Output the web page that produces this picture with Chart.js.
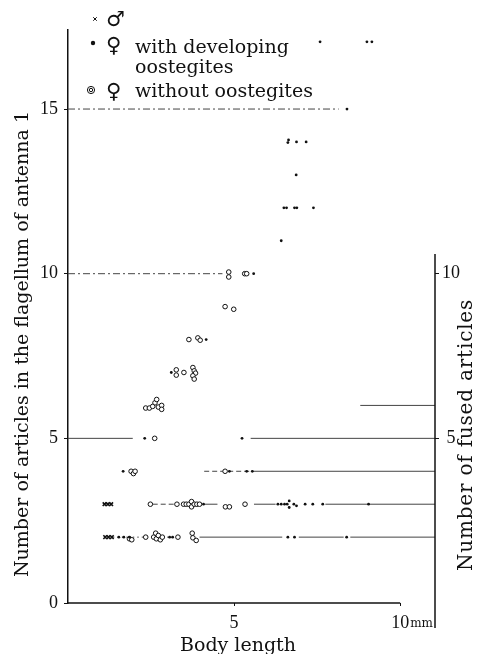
<!DOCTYPE html>
<html><head><meta charset="utf-8">
<script src="https://cdn.jsdelivr.net/npm/chart.js@4.4.1/dist/chart.umd.min.js"></script>
<style>html,body{margin:0;padding:0;background:#fff;}canvas{display:block;}</style>
</head><body>
<canvas id="c" width="492" height="654"></canvas>
<script>
// ---------- data ----------
const yTicksLeft  = [0, 5, 10, 15];
const yTicksRight = [5, 10];
const xTicks      = [5, 10];
const xUnitLabel  = 'mm';
const yTitle      = 'Number of articles in the flagellum of antenna 1';
const y2Title     = 'Number of fused articles';
const xTitle      = 'Body length';
const legendLabels = ['\u2642', '\u2640  with developing', 'oostegites', '\u2640  without oostegites'];

// males (x)
const maleX = [1.10, 1.20, 1.30, 1.12, 1.22, 1.32];
const maleY = [3.00, 3.00, 3.00, 2.00, 2.00, 2.00];

// females with developing oostegites (filled dots)
const devX = [7.59, 9.00, 9.15, 8.40,
              6.62, 6.64, 6.88, 7.17, 6.87,
              6.50, 6.58, 6.82, 6.89, 7.39, 6.42,
              5.59, 4.16, 3.11, 2.31, 5.24,
              1.66, 4.86, 5.38, 5.55,
              4.08, 6.32, 6.42, 6.52, 6.60, 6.66, 6.66, 6.80, 6.88, 7.14, 7.37, 7.67, 9.05,
              1.53, 1.68, 1.85, 3.06, 3.15, 6.62, 6.82, 8.39];
const devY = [17.04, 17.04, 17.04, 15.0,
              13.98, 14.06, 14.0, 14.0, 13.0,
              12.0, 12.0, 12.0, 12.0, 12.0, 11.0,
              10.0, 8.0, 7.0, 5.0, 5.0,
              4.0, 4.0, 4.0, 4.0,
              3.0, 3.0, 3.0, 3.0, 3.0, 3.1, 2.9, 3.0, 2.95, 3.0, 3.0, 3.0, 3.0,
              2.0, 2.0, 2.0, 2.0, 2.0, 2.0, 2.0, 2.0];

// females without oostegites (open circles)
const nonX = [4.84, 4.84, 5.32, 5.38,
              4.73, 4.99,
              3.64, 3.91, 3.98,
              3.26, 3.26, 3.49, 3.76, 3.80, 3.84, 3.76, 3.80,
              2.34, 2.45, 2.55, 2.62, 2.67, 2.72, 2.82, 2.82,
              2.61,
              1.90, 1.97, 2.02, 4.73,
              2.48, 3.28, 3.48, 3.56, 3.64, 3.72, 3.72, 3.80, 3.88, 3.96, 4.74, 4.86, 5.33,
              1.85, 1.92, 2.34, 2.58, 2.64, 2.66, 2.72, 2.78, 2.84, 3.31, 3.74, 3.76, 3.86];
const nonY = [10.05, 9.9, 10.0, 10.0,
              9.0, 8.92,
              8.0, 8.05, 7.98,
              7.08, 6.92, 7.0, 7.15, 7.05, 6.98, 6.9, 6.8,
              5.92, 5.92, 5.97, 6.08, 6.18, 5.95, 6.0, 5.88,
              5.0,
              4.0, 3.93, 4.0, 4.0,
              3.0, 3.0, 3.0, 3.0, 3.0, 3.08, 2.92, 3.0, 3.0, 3.0, 2.92, 2.92, 3.0,
              1.95, 1.92, 2.0, 2.0, 2.12, 1.95, 2.05, 1.92, 2.0, 2.0, 2.12, 1.98, 1.9];

// horizontal range lines (number of fused articles / reference lines)
const segY     = [15,   10,   5,    5,     6,     4,    4,     3,    3,    3,    3,     2,    2,    2,    2,    2,    2];
const segStart = [0,    0,    0,    5.50,  8.80,  4.10, 5.60,  2.55, 4.10, 5.60, 7.75,  1.35, 1.95, 2.85, 3.96, 6.95, 8.50];
const segEnd   = [8.15, 4.65, 1.95, 11.05, 11.05, 5.60, 11.05, 3.25, 4.50, 6.25, 11.05, 1.80, 2.30, 3.25, 6.45, 8.30, 11.05];

// ---------- styles ----------
const segKind = ['dashdot','dashdot','solid','solid','solid','dashed','solid','dashed','solid','solid','solid','dotted','dotted','dotted','solid','solid','solid'];
const dashFor = {solid: [], dashed: [5, 3], dotted: [1.5, 3], dashdot: [7, 3, 2, 3]};
const INK = '#111';
const SERIF = '"DejaVu Serif", serif';
const NUMF = '"Liberation Serif", serif';

const zip = (xs, ys) => xs.map((x, i) => ({x, y: ys[i]}));

const datasets = [
  {label: 'male', data: zip(maleX, maleY), pointStyle: 'crossRot', pointRadius: 2.6,
   borderColor: INK, borderWidth: 1.6, backgroundColor: INK, order: 0},
  {label: 'dev', data: zip(devX, devY), pointStyle: 'circle', pointRadius: 1.4,
   borderWidth: 0, backgroundColor: INK, order: 0},
  {label: 'non', data: zip(nonX, nonY), pointStyle: 'circle', pointRadius: 2.3,
   borderWidth: 1, borderColor: INK, backgroundColor: '#fff', order: 0}
];
segY.forEach((y, i) => {
  datasets.push({
    label: 'seg' + i,
    data: [{x: segStart[i], y}, {x: segEnd[i], y}],
    showLine: true, pointRadius: 0, borderColor: '#444', borderWidth: 1,
    borderDash: dashFor[segKind[i]], clip: false, order: 5
  });
});

const decor = {
  id: 'decor',
  afterDraw(chart) {
    const ctx = chart.ctx, xs = chart.scales.x, ys = chart.scales.y, y2 = chart.scales.y2;
    const area = chart.chartArea;
    ctx.save();
    ctx.strokeStyle = INK; ctx.fillStyle = INK; ctx.lineWidth = 1.6;
    // x axis line from 0 to last tick
    const y0 = ys.getPixelForValue(0);
    ctx.beginPath();
    ctx.moveTo(xs.getPixelForValue(0), y0);
    ctx.lineTo(xs.getPixelForValue(xTicks[xTicks.length - 1]), y0);
    ctx.stroke();
    // right axis (fused articles)
    ctx.lineWidth = 1.5;
    ctx.beginPath();
    ctx.moveTo(area.right, y2.getPixelForValue(10.6));
    ctx.lineTo(area.right, y2.getPixelForValue(-0.76));
    ctx.stroke();
    // unit after last x tick label
    ctx.font = '18px ' + NUMF;
    const w10 = ctx.measureText(String(xTicks[xTicks.length - 1])).width;
    ctx.font = '12px ' + SERIF;
    ctx.textAlign = 'left'; ctx.textBaseline = 'alphabetic';
    ctx.fillText(xUnitLabel, xs.getPixelForValue(xTicks[xTicks.length - 1]) + w10 / 2 + 1, y0 + 24);
    // titles
    ctx.font = '19px ' + SERIF;
    ctx.textAlign = 'center'; ctx.textBaseline = 'alphabetic';
    ctx.fillText(xTitle, 238, 651);
    ctx.save(); ctx.translate(28, 344); ctx.rotate(-Math.PI / 2);
    ctx.fillText(yTitle, 0, 0); ctx.restore();
    ctx.save(); ctx.translate(472, 435); ctx.rotate(-Math.PI / 2);
    ctx.font = '20px ' + SERIF;
    if ('letterSpacing' in ctx) ctx.letterSpacing = '0.8px';
    ctx.fillText(y2Title, 0, 0); ctx.restore();
    if ('letterSpacing' in ctx) ctx.letterSpacing = '0px';
    // legend
    ctx.lineWidth = 1;
    Chart.helpers.drawPoint(ctx, {pointStyle: 'crossRot', radius: 2.5, borderWidth: 1}, 95, 19);
    ctx.beginPath(); ctx.arc(93, 43, 2.2, 0, Math.PI * 2); ctx.fill();
    ctx.beginPath(); ctx.arc(91, 90, 3.6, 0, Math.PI * 2); ctx.stroke();
    ctx.beginPath(); ctx.arc(91, 90, 1.7, 0, Math.PI * 2); ctx.stroke();
    ctx.textAlign = 'left';
    ctx.font = '21px "DejaVu Sans", sans-serif';
    ctx.fillText(legendLabels[0], 106, 26);
    const parts1 = legendLabels[1].split('  ');
    const parts3 = legendLabels[3].split('  ');
    ctx.fillText(parts1[0], 106, 52);
    ctx.fillText(parts3[0], 106, 98);
    ctx.font = '19px ' + SERIF;
    ctx.fillText(parts1[1], 135, 53);
    ctx.fillText(legendLabels[2], 135, 73);
    ctx.fillText(parts3[1], 135, 97);
    ctx.restore();
  }
};

new Chart(document.getElementById('c'), {
  type: 'scatter',
  data: {datasets},
  options: {
    responsive: false, animation: false, devicePixelRatio: 1,
    layout: {padding: {top: 30, left: 0, right: 0, bottom: 0}},
    plugins: {legend: {display: false}, tooltip: {enabled: false}},
    scales: {
      x: {
        type: 'linear', min: 0, max: 11.05, position: 'bottom',
        afterBuildTicks: s => { s.ticks = xTicks.map(v => ({value: v})); },
        afterFit: s => { s.height = 51; },
        grid: {drawOnChartArea: false, drawTicks: true, tickLength: 3, color: INK},
        border: {display: false},
        ticks: {font: {family: NUMF, size: 18}, color: INK, padding: 6, maxRotation: 0, autoSkip: false}
      },
      y: {
        type: 'linear', min: 0, max: 17.4, position: 'left',
        afterBuildTicks: s => { s.ticks = yTicksLeft.map(v => ({value: v})); },
        afterFit: s => { s.width = 68; },
        grid: {drawOnChartArea: false, drawTicks: true, tickLength: 4, color: INK},
        border: {display: true, color: INK, width: 1.5},
        ticks: {font: {family: NUMF, size: 18}, color: INK, padding: 6, autoSkip: false}
      },
      y2: {
        type: 'linear', axis: 'y', min: 0, max: 17.4, position: 'right',
        afterBuildTicks: s => { s.ticks = yTicksRight.map(v => ({value: v})); },
        afterFit: s => { s.width = 57; },
        grid: {drawOnChartArea: false, drawTicks: true, tickLength: 4, color: INK},
        border: {display: false},
        ticks: {font: {family: NUMF, size: 18}, color: INK, padding: 3, crossAlign: 'center', autoSkip: false}
      }
    }
  },
  plugins: [decor]
});
</script>
</body></html>
